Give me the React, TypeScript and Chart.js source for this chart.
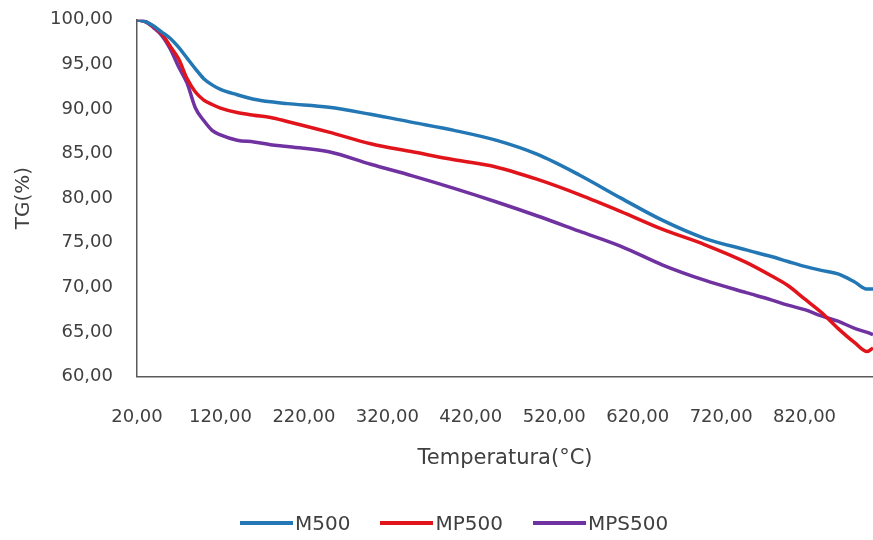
import React, { useEffect, useRef } from "react";
import { Chart, registerables } from "chart.js";

Chart.register(...registerables);

// Temperature grid (°C) at which the TG curves are sampled
const temperatures = [
  20, 30, 40, 50, 60, 70, 80, 90, 100, 110, 120, 140, 160, 180, 200, 250, 300,
  350, 400, 450, 500, 550, 600, 650, 700, 750, 780, 800, 820, 840, 860, 880,
  895, 902,
];

// Residual mass (%) for each sample
const m500 = [
  100, 99.8, 99.3, 98.6, 97.9, 96.9, 95.7, 94.5, 93.4, 92.7, 92.2, 91.6, 91.1,
  90.8, 90.6, 90.2, 89.4, 88.5, 87.6, 86.5, 84.9, 82.6, 80.0, 77.5, 75.5, 74.2,
  73.45, 72.9, 72.35, 71.9, 71.5, 70.6, 69.8, 69.8,
];
const mp500 = [
  100, 99.8, 99.2, 98.4, 97.0, 95.6, 93.4, 91.9, 91.0, 90.5, 90.1, 89.6, 89.3,
  89.05, 88.6, 87.4, 86.1, 85.2, 84.3, 83.5, 82.1, 80.4, 78.5, 76.5, 74.8,
  72.8, 71.3, 70.2, 68.7, 67.2, 65.4, 63.8, 62.8, 63.2,
];
const mps500 = [
  100, 99.8, 99.1, 98.2, 96.7, 94.7, 92.9, 90.1, 88.7, 87.6, 87.1, 86.5, 86.3,
  86.0, 85.8, 85.2, 83.8, 82.5, 81.1, 79.6, 78.0, 76.3, 74.6, 72.5, 70.8, 69.4,
  68.6, 68.0, 67.5, 66.8, 66.2, 65.4, 64.95, 64.7,
];

const seriesNames = ["M500", "MP500", "MPS500"];
const seriesColors = ["#2277B4", "#E2141B", "#7032A0"];

const xTicks = [20, 120, 220, 320, 420, 520, 620, 720, 820];
const yTicks = [60, 65, 70, 75, 80, 85, 90, 95, 100];

const fmt = (v: number) => v.toFixed(2).replace(".", ",");
const textColor = "#404040";
const axisColor = "#5a5a5a";
const fontFamily = "DejaVu Sans";

// The canvas is a little taller than the frame and lifted by this much,
// so the y-axis tick padding does not push the plot down.
const lift = 15;

export default function App() {
  const canvasRef = useRef<HTMLCanvasElement | null>(null);

  useEffect(() => {
    if (!canvasRef.current) return;
    const values = [m500, mp500, mps500];
    const datasets = values.map((arr, i) => ({
      label: seriesNames[i],
      data: temperatures.map((t, j) => ({ x: t, y: arr[j] })),
      borderColor: seriesColors[i],
      backgroundColor: seriesColors[i],
      borderWidth: 3.5,
      pointRadius: 0,
      cubicInterpolationMode: "monotone" as const,
      fill: false,
    }));

    const chart = new Chart(canvasRef.current, {
      type: "line",
      data: { datasets },
      options: {
        animation: false,
        responsive: false,
        maintainAspectRatio: false,
        layout: { padding: { left: 0, right: 0, top: 34.5, bottom: 50.4 } },
        scales: {
          x: {
            type: "linear",
            min: 20,
            max: 902,
            afterBuildTicks: (axis: any) => {
              axis.ticks = xTicks.map((v) => ({ value: v }));
            },
            grid: { display: false, drawTicks: false },
            border: { display: true, color: axisColor, width: 1.5 },
            ticks: {
              padding: 30.5,
              maxRotation: 0,
              autoSkip: false,
              color: textColor,
              font: { family: fontFamily, size: 18 },
              callback: (v: any) => fmt(Number(v)),
            },
            title: {
              display: true,
              text: "Temperatura(°C)",
              color: textColor,
              font: { family: fontFamily, size: 21 },
              padding: { top: -12.7, bottom: 18 },
            },
          },
          y: {
            type: "linear",
            min: 60,
            max: 100,
            afterBuildTicks: (axis: any) => {
              axis.ticks = yTicks.map((v) => ({ value: v }));
            },
            afterFit: (axis: any) => {
              axis.width = 137;
            },
            grid: { display: false, drawTicks: false },
            border: { display: true, color: axisColor, width: 1.5 },
            ticks: {
              padding: 24,
              color: textColor,
              font: { family: fontFamily, size: 18 },
              callback: (v: any) => fmt(Number(v)),
            },
            title: {
              display: true,
              text: "TG(%)",
              color: textColor,
              font: { family: fontFamily, size: 20 },
              padding: { top: 12, bottom: 0 },
            },
          },
        },
        plugins: {
          legend: { display: false },
          tooltip: { enabled: false },
        },
      },
    });

    return () => chart.destroy();
  }, []);

  return (
    <div
      style={{
        position: "absolute",
        left: 0,
        top: 0,
        width: 873,
        height: 540,
        overflow: "hidden",
        background: "#ffffff",
      }}
    >
      <canvas
        ref={canvasRef}
        width={873}
        height={540 + lift}
        style={{ display: "block", marginTop: -lift }}
      />
      <div
        style={{
          position: "absolute",
          left: 240,
          top: 511,
          height: 24,
          display: "flex",
          alignItems: "center",
          fontFamily,
          fontSize: 20,
          color: textColor,
          whiteSpace: "nowrap",
        }}
      >
        {seriesNames.map((name, i) => (
          <div
            key={name}
            style={{
              display: "flex",
              alignItems: "center",
              marginRight: i < seriesNames.length - 1 ? 30 : 0,
            }}
          >
            <span
              style={{
                display: "inline-block",
                width: 53,
                height: 4,
                background: seriesColors[i],
                marginRight: 2,
              }}
            />
            <span>{name}</span>
          </div>
        ))}
      </div>
    </div>
  );
}
